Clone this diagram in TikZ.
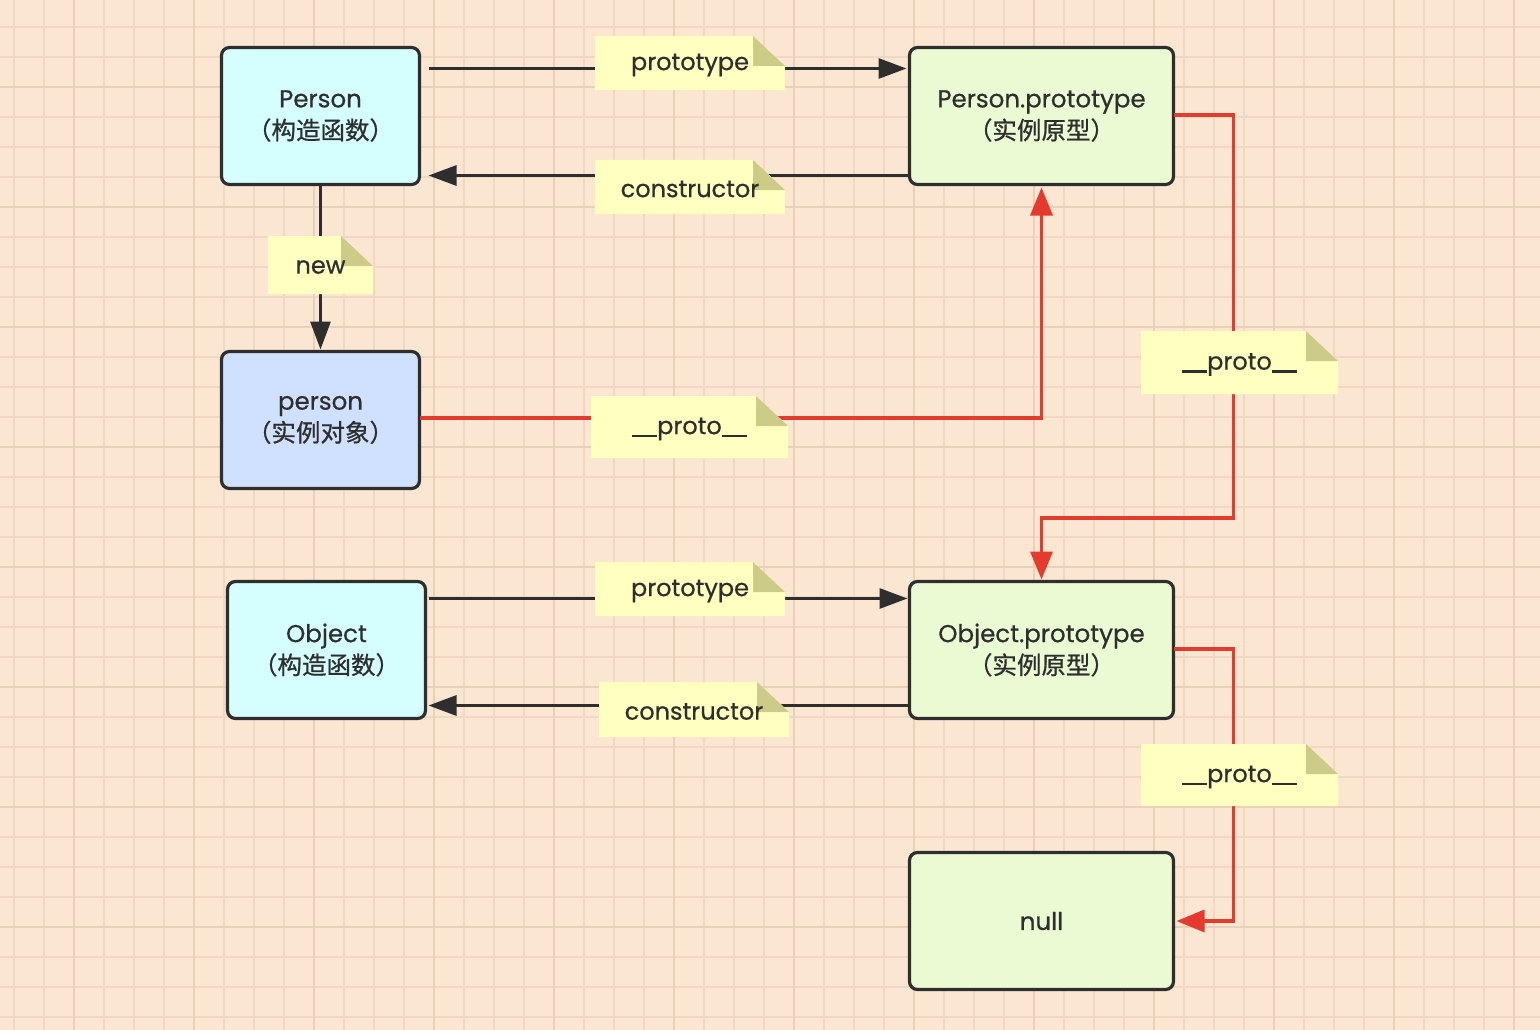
\documentclass[tikz,border=0pt]{standalone}
\usepackage{fontspec}
\setmainfont[FakeBold=0.6]{Poppins}
\newfontfamily\cjk[FakeBold=0.8]{Noto Sans CJK SC}
\usetikzlibrary{arrows.meta,calc}
\definecolor{bgc}{HTML}{FBE6D1}
\definecolor{gridminor}{HTML}{F0D9C4}
\definecolor{gridmajor}{HTML}{E9D0B9}
\definecolor{cyanbox}{HTML}{D5FFFF}
\definecolor{bluebox}{HTML}{D0E1FF}
\definecolor{greenbox}{HTML}{EAFAD3}
\definecolor{notefill}{HTML}{FFFFC0}
\definecolor{notefold}{HTML}{CCCC88}
\definecolor{ink}{HTML}{2E2E2E}
\definecolor{redline}{HTML}{E53A2E}
\newcommand\us{\rule[-3pt]{12.5pt}{2.2pt}}
\newcommand\cn[1]{{\cjk\fontsize{24.5}{32}\selectfont #1}}
\tikzset{
  box/.style={draw=ink, line width=3.2pt, rounded corners=8pt, minimum width=198pt,
    minimum height=137pt, align=center, outer sep=0pt, text=ink,
    font=\fontsize{24.5}{32}\selectfont},
  widebox/.style={box, minimum width=264pt},
  darr/.style={draw=ink, line width=3pt, -{Triangle[length=28pt,width=20pt]}},
  rarr/.style={draw=redline, line width=3.5pt, -{Triangle[length=28pt,width=22pt]}},
  notetext/.style={text=ink, font=\fontsize{24}{26}\selectfont, inner sep=0pt},
}
\newcommand\notebox[6]{% name, cx, cy, w, h, text
  \fill[notefill] ({#2-#4/2},{#3-#5/2}) -- ({#2+#4/2-32},{#3-#5/2}) -- ({#2+#4/2},{#3-#5/2+30})
     -- ({#2+#4/2},{#3+#5/2}) -- ({#2-#4/2},{#3+#5/2}) -- cycle;
  \fill[notefold] ({#2+#4/2-32},{#3-#5/2}) -- ({#2+#4/2-32},{#3-#5/2+30}) -- ({#2+#4/2},{#3-#5/2+30}) -- cycle;
  \node[notetext] (#1) at (#2,{#3+2}) {#6};
}
\begin{document}
\begin{tikzpicture}[x=1pt,y=-1pt]
\fill[bgc] (0,0) rectangle (1540,1030);
\useasboundingbox (0,0) rectangle (1540,1030);
\foreach \x in {14,44,...,1530} \draw[gridminor, line width=1.5pt] (\x,0) -- (\x,1030);
\foreach \y in {27,57,...,1030} \draw[gridminor, line width=1.5pt] (0,\y) -- (1540,\y);
\foreach \x in {74,194,...,1530} \draw[gridmajor, line width=2pt] (\x,0) -- (\x,1030);
\foreach \y in {87,207,...,1030} \draw[gridmajor, line width=2pt] (0,\y) -- (1540,\y);

\node[box, fill=cyanbox] (Person) at (320.5,116) {Person\\\cn{（构造函数）}};
\node[widebox, fill=greenbox] (PP) at (1041.5,116) {Person.prototype\\\cn{（实例原型）}};
\node[box, fill=bluebox] (person) at (320.5,420) {person\\\cn{（实例对象）}};
\node[box, fill=cyanbox] (Object) at (326.5,650) {Object\\\cn{（构造函数）}};
\node[widebox, fill=greenbox] (OP) at (1041.5,650) {Object.prototype\\\cn{（实例原型）}};
\node[widebox, fill=greenbox] (null) at (1041.5,921) {null};

\draw[darr] ($(Person.north east)+(9,21)$) -- ($(PP.north west)+(-3,21)$);
\draw[darr] ($(PP.south west)+(0,-9)$) -- ($(Person.south east)+(9,-9)$);
\draw[darr] (Person.south) -- ($(person.north)+(0,-2)$);
\draw[rarr] ($(person.east)+(0,-2)$) -| ($(PP.south)+(0,3)$);
\draw[rarr] ($(PP.east)+(0,-1)$) -- ++(60,0) -- ++(0,403) -| ($(OP.north)+(0,-2)$);
\draw[darr] ($(Object.north east)+(3,17)$) -- ($(OP.north west)+(-2,17)$);
\draw[darr] ($(OP.south west)+(-2,-13)$) -- ($(Object.south east)+(3,-13)$);
\draw[rarr] ($(OP.east)+(0,-1)$) -- ++(60,0) |- ($(null.east)+(3,0)$);

\notebox{n1}{690}{63}{190}{54}{prototype}
\notebox{n2}{690}{187}{190}{54}{constructor}
\notebox{n3}{320.5}{265}{105}{58}{new}
\notebox{n4}{689.5}{427}{197}{62}{\us\us proto\us\us}
\notebox{n5}{1239.5}{362.5}{197}{63}{\us\us proto\us\us}
\notebox{n6}{690}{589}{190}{54}{prototype}
\notebox{n7}{694}{709.5}{190}{55}{constructor}
\notebox{n8}{1239.5}{775}{197}{62}{\us\us proto\us\us}
\end{tikzpicture}
\end{document}
